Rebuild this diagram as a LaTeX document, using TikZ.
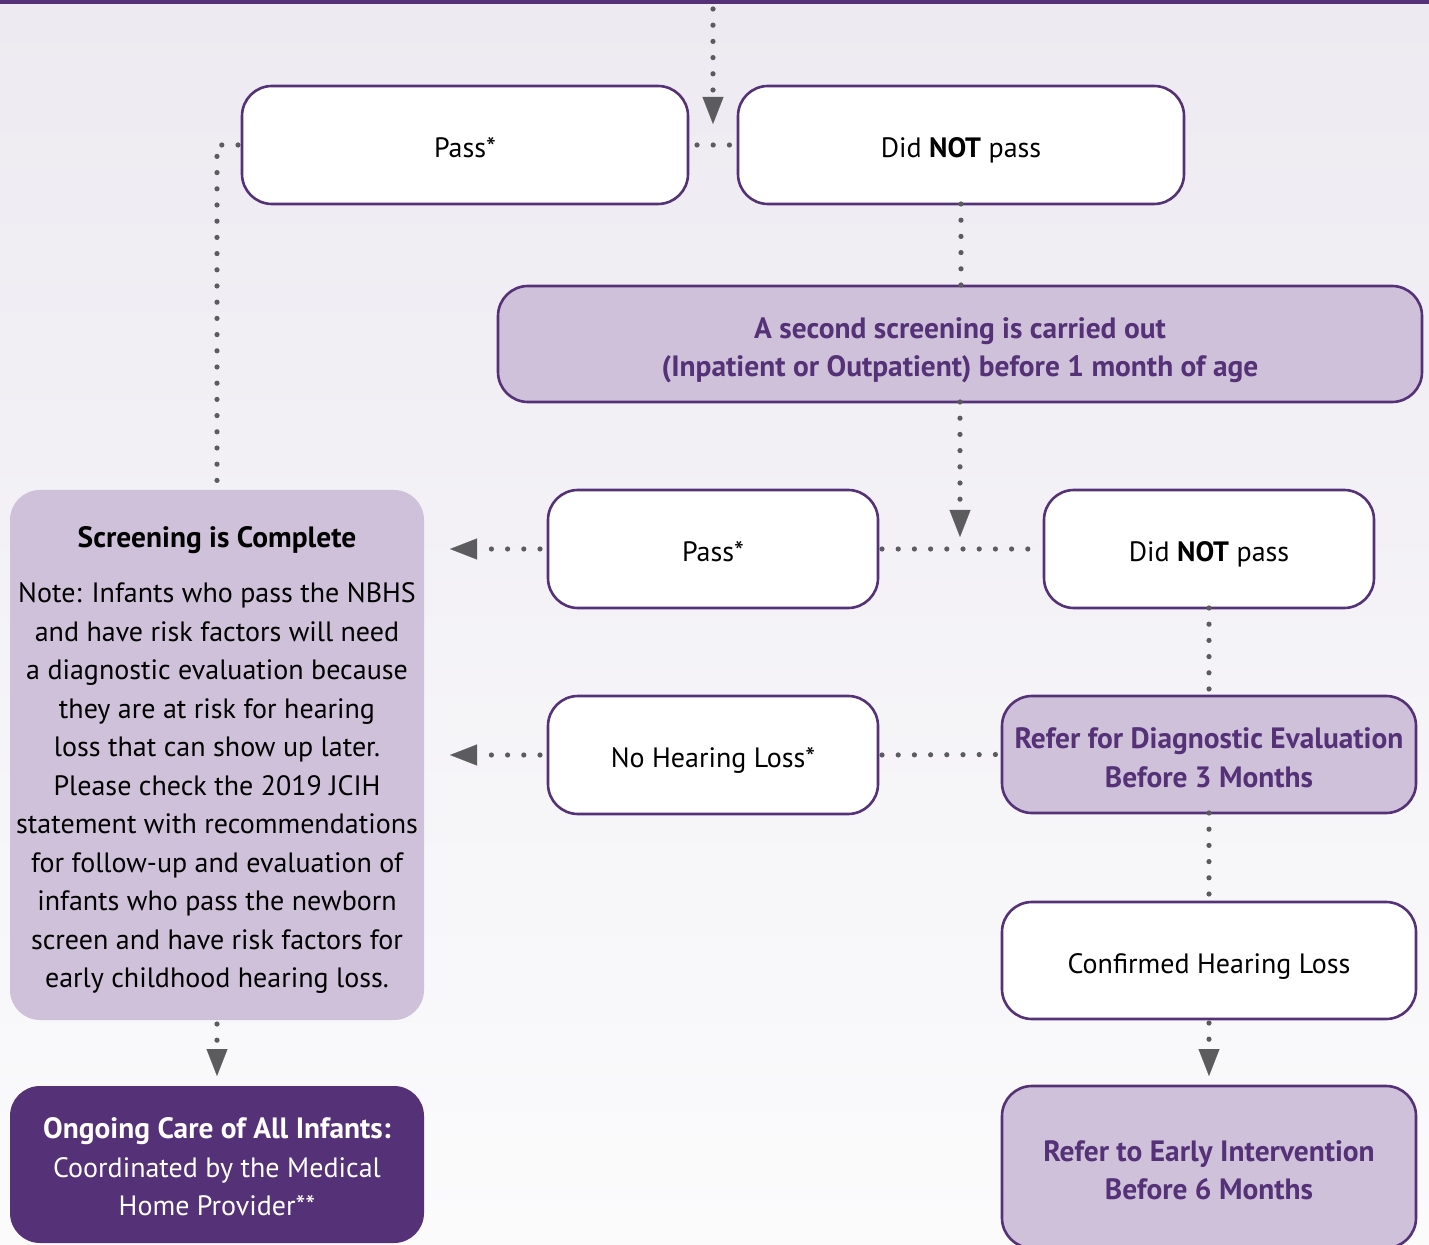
\documentclass[tikz,border=0pt]{standalone}
\usepackage{fontspec}
\setmainfont{PT Sans}
\usepackage{xcolor}
\usetikzlibrary{positioning,arrows.meta}

\definecolor{nbpurple}{RGB}{85,49,119}
\definecolor{nblilac}{RGB}{206,193,217}
\definecolor{nbgray}{RGB}{92,92,94}
\definecolor{nbtop}{RGB}{237,234,241}
\definecolor{nbbottom}{RGB}{251,251,252}

\newcommand{\padtop}[1]{\rule{0pt}{#1}}

\begin{document}
\begin{tikzpicture}[x=0.5pt, y=-0.5pt,
	box/.style={draw=nbpurple, line width=1.3pt, rounded corners=15pt, fill=white, align=center, inner sep=0pt, outer sep=0pt, font=\fontsize{14}{19.25}\selectfont},
	oneline/.style={box, text height=12.8pt, text depth=0pt},
	widebox/.style={oneline, minimum width=223pt, minimum height=59pt},
	smallbox/.style={oneline, minimum width=165pt, minimum height=59pt},
	sidebox/.style={minimum width=207pt, minimum height=58.5pt},
	lilac/.style={box, fill=nblilac, text=nbpurple, font=\fontsize{14.7}{19.25}\selectfont\bfseries},
	dots/.style={draw=nbgray, line width=2.6pt, line cap=round, dash pattern=on 0pt off 8.1pt},
	dotarrow/.style={dots, -{Triangle[length=13.5pt, width=10.5pt, line width=0.1pt]}}
	]
	% sfondo
	\shade[top color=nbtop, bottom color=nbbottom] (0,0) rectangle (1429,1245);
	\fill[nbpurple] (0,0) rectangle (1429,4);
	\useasboundingbox (0,0) rectangle (1429,1245);
	
	% blocchi
	\node[widebox] (pass1) at (465,145) {Pass*};
	\node[widebox, right=25pt of pass1] (didnot1) {Did \textbf{NOT} pass};
	\node[lilac, minimum width=462pt, minimum height=58pt] (screen2) at (960,344) {\padtop{16.6pt}A second screening is carried out\\(Inpatient or Outpatient) before 1 month of age};
	\node[smallbox] (pass2) at (713,549) {Pass*};
	\node[smallbox, right=83pt of pass2] (didnot2) {Did \textbf{NOT} pass};
	\node[smallbox, below=44pt of pass2] (nohl) {No Hearing Loss*};
	\node[lilac, sidebox] (refdiag) at (1209,754.5) {\padtop{13.6pt}Refer for Diagnostic Evaluation\\Before 3 Months};
	\node[oneline, sidebox, below=44.5pt of refdiag] (confirmed) {Confirmed Hearing Loss};
	\node[lilac, sidebox, minimum height=81pt, below=33.5pt of confirmed] (referei) {\padtop{13.6pt}Refer to Early Intervention\\Before 6 Months};
	\node[box, draw=none, fill=nblilac, minimum width=207pt, minimum height=265pt] (complete) at (217,755) {\padtop{15.6pt}{\fontsize{14.7}{19.25}\selectfont\bfseries Screening is Complete}\\[8.2pt]
		Note: Infants who pass the NBHS\\ and have risk factors will need\\ a diagnostic evaluation because\\ they are at risk for hearing\\ loss that can show up later.\\ Please check the 2019 JCIH\\ statement with recommendations\\ for follow-up and evaluation of\\ infants who pass the newborn\\ screen and have risk factors for\\ early childhood hearing loss.};
	\node[box, draw=none, fill=nbpurple, text=white, minimum width=207pt, minimum height=78.5pt, below=33pt of complete] (ongoing) {\padtop{13.1pt}{\fontsize{14.7}{19.25}\selectfont\bfseries Ongoing Care of All Infants:}\\Coordinated by the Medical\\Home Provider**};
	
	% frecce
	\coordinate (entry) at (713,9);
	\coordinate (split1) at (713,124);
	\draw[dotarrow] (entry) -- (split1);
	\draw[dots, shorten <=4.5pt, shorten >=4pt] (pass1.east) -- (didnot1.west);
	\draw[dots, shorten <=2pt] (pass1.west) -- (pass1.west -| complete.north) -- (complete.north);
	\draw[dots] (didnot1.south) -- (didnot1.south |- screen2.north);
	\draw[dotarrow, shorten >=6pt] (screen2.south) -- (screen2.south |- pass2.east);
	\draw[dots, shorten <=2pt, shorten >=5pt] (pass2.east) -- (didnot2.west);
	\draw[dotarrow, shorten <=4pt, shorten >=13pt] (pass2.west) -- (pass2.west -| complete.east);
	\draw[dots] (didnot2.south) -- (refdiag.north);
	\draw[dotarrow, shorten <=4pt, shorten >=13pt] (nohl.west) -- (nohl.west -| complete.east);
	\draw[dots, shorten <=2pt, shorten >=2pt] (nohl.east) -- (refdiag.west);
	\draw[dots] (refdiag.south) -- (confirmed.north);
	\draw[dotarrow, shorten <=2pt, shorten >=5pt] (confirmed.south) -- (referei.north);
	\draw[dotarrow, shorten <=2pt, shorten >=5pt] (complete.south) -- (ongoing.north);
\end{tikzpicture}
\end{document}
